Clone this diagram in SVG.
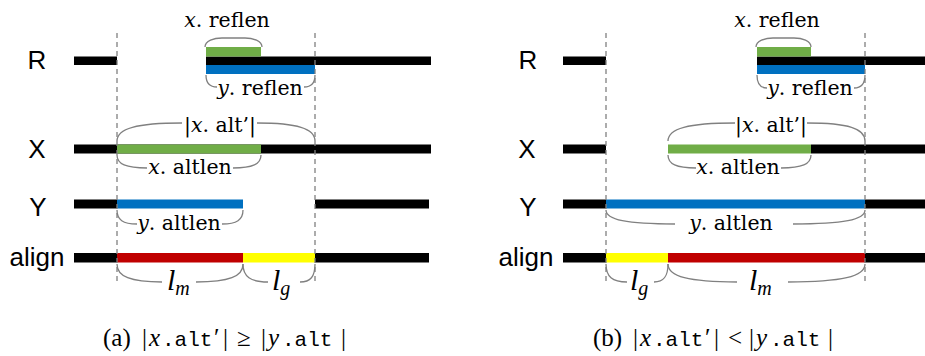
<svg xmlns="http://www.w3.org/2000/svg" width="925" height="356" viewBox="0 0 925 356">
<style>
.lab{font-family:"Liberation Sans",Arial,sans-serif;font-size:26px;fill:#000;text-anchor:middle}
.m{font-family:"DejaVu Serif","Liberation Serif",serif;font-size:20.5px;fill:#000;text-anchor:middle}
.it{font-style:italic}
.l{font-family:"Liberation Serif",serif;font-style:italic;font-size:30px;fill:#000}
.sub{font-size:20px}
.cap{font-family:"Liberation Serif",serif;font-size:25px;fill:#000}
.tt{font-family:"Liberation Mono",monospace;font-style:normal;font-size:21px}
.k{fill:#000}.g{fill:#70AD47}.b{fill:#0070C0}.r{fill:#C00000}.y{fill:#FFFF00}
.br{fill:none;stroke:#808080;stroke-width:1.3}
.d{stroke:#808080;stroke-width:1.3;stroke-dasharray:5 4}
</style>
<g id="labels">
<text class="lab" x="37" y="69">R</text>
<text class="lab" x="37" y="158">X</text>
<text class="lab" x="38" y="216">Y</text>
<text class="lab" x="37" y="266">align</text>
<text class="lab" x="528" y="69">R</text>
<text class="lab" x="527" y="158">X</text>
<text class="lab" x="528" y="216">Y</text>
<text class="lab" x="526" y="266">align</text>
</g>
<g id="panel-a">
<g id="a-R">
<rect class="k" x="74" y="56.5" width="43" height="8.5"/>
<rect class="k" x="206" y="56.5" width="225" height="8.5"/>
<rect class="g" x="206" y="47" width="55" height="9.5"/>
<rect class="b" x="206" y="65" width="109" height="9"/>
</g>
<g id="a-X">
<rect class="k" x="74" y="144.5" width="357" height="9"/>
<rect class="g" x="117" y="144.5" width="144" height="9"/>
</g>
<g id="a-Y">
<rect class="k" x="74" y="199.5" width="43" height="9"/>
<rect class="b" x="117" y="199.5" width="126" height="9"/>
<rect class="k" x="315" y="199.5" width="114" height="9"/>
</g>
<g id="a-align">
<rect class="k" x="74" y="253" width="43" height="9.5"/>
<rect class="r" x="117" y="253" width="126" height="9.5"/>
<rect class="y" x="243" y="253" width="72" height="9.5"/>
<rect class="k" x="315" y="253" width="114" height="9.5"/>
</g>
</g>
<g id="panel-b">
<g id="b-R">
<rect class="k" x="563" y="56.5" width="43" height="8.5"/>
<rect class="k" x="757" y="56.5" width="168" height="8.5"/>
<rect class="g" x="757" y="47" width="54" height="9.5"/>
<rect class="b" x="757" y="65" width="108" height="9"/>
</g>
<g id="b-X">
<rect class="k" x="563" y="144.5" width="43" height="9"/>
<rect class="k" x="811" y="144.5" width="114" height="9"/>
<rect class="g" x="668" y="144.5" width="143" height="9"/>
</g>
<g id="b-Y">
<rect class="k" x="563" y="199.5" width="43" height="9"/>
<rect class="b" x="606" y="199.5" width="259" height="9"/>
<rect class="k" x="865" y="199.5" width="60" height="9"/>
</g>
<g id="b-align">
<rect class="k" x="563" y="253" width="43" height="9.5"/>
<rect class="y" x="606" y="253" width="62" height="9.5"/>
<rect class="r" x="668" y="253" width="197" height="9.5"/>
<rect class="k" x="865" y="253" width="60" height="9.5"/>
</g>
</g>
<g id="connectors">
<line class="d" x1="117" y1="33" x2="117" y2="284"/>
<line class="d" x1="315" y1="33" x2="315" y2="284"/>
<line class="d" x1="606" y1="33" x2="606" y2="284"/>
<line class="d" x1="865" y1="33" x2="865" y2="284"/>
<path class="br" d="M205 47 C205 40.7 214 38 222 38 L245 38 C253 38 262 40.7 262 47"/>
<path class="br" d="M206 75 C206 83.4 209.3 87 217 87 M304 87 C311.7 87 315 83.4 315 75"/>
<path class="br" d="M117 141 C117 128.4 136.5 123 182 123 M257 123 C297 123 315 128.4 315 141"/>
<path class="br" d="M117 155 C117 164.1 126 168 147 168 M233 168 C252.6 168 261 164.1 261 155"/>
<path class="br" d="M117 210 C117 219.8 123 224 137 224 M222 224 C236.7 224 243 219.8 243 210"/>
<path class="br" d="M117 264 C117 276.6 130.5 282 162 282 M196 282 C229 282 243 276.6 243 264"/>
<path class="br" d="M243 264 C243 276.6 250.5 282 268 282 M300 282 C310.5 282 315 276.6 315 264"/>
<path class="br" d="M756 47 C756 40.7 765 38 773 38 L794 38 C802 38 811 40.7 811 47"/>
<path class="br" d="M757 75 C757 84.1 760 88 767 88 M854 88 C861.7 88 865 84.1 865 75"/>
<path class="br" d="M668 141 C668 128.4 688 123 735 123 M807 123 C848.4 123 865 128.4 865 141"/>
<path class="br" d="M668 155 C668 164.1 676.4 168 696 168 M781 168 C802 168 811 164.1 811 155"/>
<path class="br" d="M606 210 C606 219.8 626.7 224 675 224 M793 224 C843.4 224 865 219.8 865 210"/>
<path class="br" d="M606 264 C606 276.6 612.3 282 627 282 M654 282 C663.8 282 668 276.6 668 264"/>
<path class="br" d="M668 264 C668 276.6 688.7 282 737 282 M788 282 C841.9 282 865 276.6 865 264"/>
</g>
<g id="brace-labels">
<text class="m" x="227" y="27"><tspan class="it">x</tspan>. reflen</text>
<text class="m" x="260" y="95"><tspan class="it">y</tspan>. reflen</text>
<text class="m" x="220" y="132">|<tspan class="it">x</tspan>. alt’|</text>
<text class="m" x="190" y="174"><tspan class="it">x</tspan>. altlen</text>
<text class="m" x="179" y="230"><tspan class="it">y</tspan>. altlen</text>
<text class="l" x="167" y="290">l<tspan class="sub" dy="5">m</tspan></text>
<text class="l" x="272" y="290">l<tspan class="sub" dy="5">g</tspan></text>
<text class="m" x="777" y="27"><tspan class="it">x</tspan>. reflen</text>
<text class="m" x="810" y="95"><tspan class="it">y</tspan>. reflen</text>
<text class="m" x="771" y="132">|<tspan class="it">x</tspan>. alt’|</text>
<text class="m" x="738" y="174"><tspan class="it">x</tspan>. altlen</text>
<text class="m" x="731" y="230"><tspan class="it">y</tspan>. altlen</text>
<text class="l" x="630" y="290">l<tspan class="sub" dy="5">g</tspan></text>
<text class="l" x="749" y="290">l<tspan class="sub" dy="5">m</tspan></text>
</g>
<g id="captions">
<text class="cap" y="346"><tspan x="103">(a)</tspan><tspan x="142">|</tspan><tspan x="149" class="it">x</tspan><tspan x="162" class="tt">.alt</tspan><tspan x="214">′</tspan><tspan x="223">|</tspan><tspan x="237">≥</tspan><tspan x="261">|</tspan><tspan x="268" class="it">y</tspan><tspan x="282" class="tt">.alt</tspan><tspan x="341">|</tspan></text>
<text class="cap" y="346"><tspan x="593">(b)</tspan><tspan x="633">|</tspan><tspan x="640" class="it">x</tspan><tspan x="653" class="tt">.alt</tspan><tspan x="705">′</tspan><tspan x="714">|</tspan><tspan x="728">&lt;</tspan><tspan x="749">|</tspan><tspan x="756" class="it">y</tspan><tspan x="770" class="tt">.alt</tspan><tspan x="828">|</tspan></text>
</g>
</svg>
